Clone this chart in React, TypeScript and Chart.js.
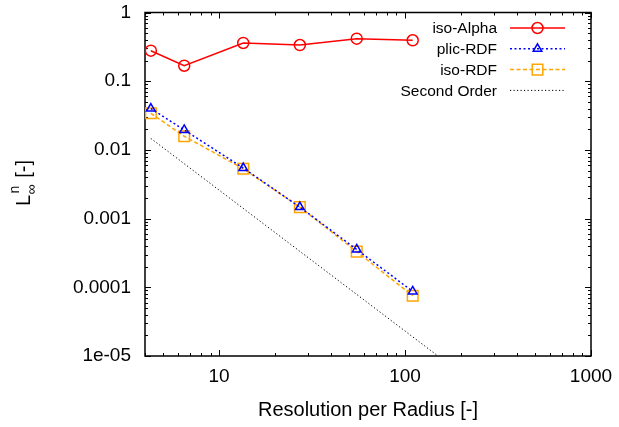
import React, { useEffect, useRef } from "react";
import { Chart, registerables } from "chart.js";

Chart.register(...registerables);

const FONT = "'Liberation Sans', Arial, Helvetica, sans-serif";

// ---- data ----
const resolution = [4.3, 6.5, 13.5, 27.2, 55, 110];
const isoAlpha = [0.278, 0.168, 0.36, 0.336, 0.416, 0.394];
const plicRDF = [0.04, 0.0195, 0.00545, 0.00147, 0.000355, 0.000087];
const isoRDF = [0.0341, 0.0158, 0.00531, 0.00147, 0.00033, 0.0000755];
const secondOrderX = [4.3, 150.4];
const secondOrderY = [0.0147, 0.00001];

const seriesLabels = ["iso-Alpha", "plic-RDF", "iso-RDF", "Second Order"];

const xTickValues = [10, 100, 1000];
const xTickLabels = ["10", "100", "1000"];
const yTickValues = [1e-5, 1e-4, 1e-3, 1e-2, 0.1, 1];
const yTickLabels = ["1e-05", "0.0001", "0.001", "0.01", "0.1", "1"];

const xTitle = "Resolution per Radius [-]";

function drawMarker(ctx: CanvasRenderingContext2D, style: string, x: number, y: number, r: number) {
  ctx.beginPath();
  if (style === "circle") {
    ctx.arc(x, y, r, 0, Math.PI * 2);
  } else if (style === "triangle") {
    let rad = 0;
    const t = (2 * Math.PI) / 3;
    ctx.moveTo(x + Math.sin(rad) * r, y - Math.cos(rad) * r);
    rad += t;
    ctx.lineTo(x + Math.sin(rad) * r, y - Math.cos(rad) * r);
    rad += t;
    ctx.lineTo(x + Math.sin(rad) * r, y - Math.cos(rad) * r);
    ctx.closePath();
  } else if (style === "rect") {
    const s = r * Math.SQRT1_2;
    ctx.rect(x - s, y - s, 2 * s, 2 * s);
  }
  ctx.stroke();
}

const frameTicksPlugin = {
  id: "frameTicks",
  beforeDatasetsDraw(chart: any) {
    const { ctx, chartArea } = chart;
    const { left, right, top, bottom } = chartArea;
    const xs = chart.scales.x;
    const ys = chart.scales.y;
    ctx.save();
    ctx.strokeStyle = "#000";
    ctx.lineWidth = 1;
    ctx.setLineDash([]);
    const e0x = Math.floor(Math.log10(xs.min));
    const e1x = Math.ceil(Math.log10(xs.max));
    for (let e = e0x; e <= e1x; e++) {
      for (let m = 1; m <= 9; m++) {
        const v = m * Math.pow(10, e);
        if (v < xs.min * 0.9999 || v > xs.max * 1.0001) continue;
        const px = Math.round(xs.getPixelForValue(v)) + 0.5;
        const len = m === 1 ? 6 : 3;
        ctx.beginPath();
        ctx.moveTo(px, bottom);
        ctx.lineTo(px, bottom - len);
        ctx.moveTo(px, top);
        ctx.lineTo(px, top + len);
        ctx.stroke();
      }
    }
    const e0y = Math.floor(Math.log10(ys.min) + 1e-9);
    const e1y = Math.ceil(Math.log10(ys.max) - 1e-9);
    for (let e = e0y; e <= e1y; e++) {
      for (let m = 1; m <= 9; m++) {
        const v = m * Math.pow(10, e);
        if (v < ys.min * 0.9999 || v > ys.max * 1.0001) continue;
        const py = Math.round(ys.getPixelForValue(v)) + 0.5;
        const len = m === 1 ? 6 : 3;
        ctx.beginPath();
        ctx.moveTo(left, py);
        ctx.lineTo(left + len, py);
        ctx.moveTo(right, py);
        ctx.lineTo(right - len, py);
        ctx.stroke();
      }
    }
    ctx.lineWidth = 1.5;
    ctx.strokeRect(left, top, right - left, bottom - top);
    ctx.restore();
  },
};

const keyPlugin = {
  id: "gnuKey",
  afterDatasetsDraw(chart: any) {
    const { ctx } = chart;
    ctx.save();
    const textRight = 497;
    const lineL = 510;
    const lineR = 565;
    chart.data.datasets.forEach((ds: any, i: number) => {
      const yy = 28 + i * 20.8;
      ctx.font = `15.5px ${FONT}`;
      ctx.fillStyle = "#000";
      ctx.textAlign = "right";
      ctx.textBaseline = "middle";
      ctx.setLineDash([]);
      ctx.fillText(ds.label, textRight, yy + 1);
      ctx.strokeStyle = ds.borderColor;
      ctx.lineWidth = ds.borderWidth;
      ctx.setLineDash(ds.borderDash || []);
      ctx.beginPath();
      ctx.moveTo(lineL, yy);
      ctx.lineTo(lineR, yy);
      ctx.stroke();
      ctx.setLineDash([]);
      if (ds.pointRadius > 0) {
        ctx.lineWidth = ds.pointBorderWidth;
        drawMarker(ctx, ds.pointStyle, (lineL + lineR) / 2, yy, ds.pointRadius);
      }
    });
    ctx.restore();
  },
};

const yTitlePlugin = {
  id: "yTitle",
  afterDraw(chart: any) {
    const { ctx } = chart;
    ctx.save();
    ctx.translate(29.5, 206);
    ctx.rotate(-Math.PI / 2);
    ctx.fillStyle = "#000";
    ctx.textAlign = "left";
    ctx.textBaseline = "alphabetic";
    ctx.font = `20px ${FONT}`;
    ctx.fillText("L", 0, 0);
    let w = ctx.measureText("L").width + 0.5;
    ctx.font = `14px ${FONT}`;
    ctx.fillText("n", w + 1, -11);
    const wn = ctx.measureText("n").width;
    ctx.fillText("\u221E", w, 6);
    const wi = ctx.measureText("\u221E").width;
    w += Math.max(wn, wi) + 1;
    ctx.font = `20px ${FONT}`;
    ctx.fillText(" [-]", w, 0);
    ctx.restore();
  },
};

export default function App() {
  const ref = useRef<HTMLCanvasElement | null>(null);

  useEffect(() => {
    if (!ref.current) return;
    const chart = new Chart(ref.current, {
      type: "line",
      data: {
        datasets: [
          {
            label: seriesLabels[0],
            data: resolution.map((x, i) => ({ x, y: isoAlpha[i] })),
            borderColor: "#ff0000",
            backgroundColor: "rgba(0,0,0,0)",
            borderWidth: 1.5,
            pointStyle: "circle",
            pointRadius: 5.5,
            pointBorderWidth: 1.5,
            pointBorderColor: "#ff0000",
            pointBackgroundColor: "rgba(0,0,0,0)",
            tension: 0,
          } as any,
          {
            label: seriesLabels[1],
            data: resolution.map((x, i) => ({ x, y: plicRDF[i] })),
            borderColor: "#0000ff",
            backgroundColor: "rgba(0,0,0,0)",
            borderWidth: 1.5,
            borderDash: [2, 2.5],
            pointStyle: "triangle",
            pointRadius: 5,
            pointBorderWidth: 1.5,
            pointBorderColor: "#0000ff",
            pointBackgroundColor: "rgba(0,0,0,0)",
            tension: 0,
          } as any,
          {
            label: seriesLabels[2],
            data: resolution.map((x, i) => ({ x, y: isoRDF[i] })),
            borderColor: "#ffa500",
            backgroundColor: "rgba(0,0,0,0)",
            borderWidth: 1.5,
            borderDash: [4, 2.5],
            pointStyle: "rect",
            pointRadius: 7.5,
            pointBorderWidth: 1.5,
            pointBorderColor: "#ffa500",
            pointBackgroundColor: "rgba(0,0,0,0)",
            tension: 0,
          } as any,
          {
            label: seriesLabels[3],
            data: secondOrderX.map((x, i) => ({ x, y: secondOrderY[i] })),
            borderColor: "#000000",
            backgroundColor: "rgba(0,0,0,0)",
            borderWidth: 1,
            borderDash: [1.2, 2.3],
            pointRadius: 0,
            pointBorderWidth: 0,
            tension: 0,
          } as any,
        ],
      },
      options: {
        animation: false,
        responsive: true,
        maintainAspectRatio: false,
        layout: { padding: { top: 12.5, right: 28, left: 0, bottom: 0 } },
        plugins: {
          legend: { display: false },
          tooltip: { enabled: false },
        },
        scales: {
          x: {
            type: "logarithmic",
            min: 4,
            max: 1000,
            afterFit: (s: any) => {
              s.height = 71;
              s.paddingLeft = 0;
              s.paddingRight = 0;
            },
            afterBuildTicks: (s: any) => {
              s.ticks = xTickValues.map((v) => ({ value: v }));
            },
            ticks: {
              callback: (_v: any, i: number) => xTickLabels[i],
              font: { family: FONT, size: 19 },
              color: "#000",
              padding: 9,
              maxRotation: 0,
              autoSkip: false,
            },
            grid: { display: false, drawTicks: false },
            border: { display: false },
            title: {
              display: true,
              text: xTitle,
              font: { family: FONT, size: 20 },
              color: "#000",
              padding: { top: 0, bottom: 5 },
            },
          },
          y: {
            type: "logarithmic",
            min: 1e-5,
            max: 1,
            afterFit: (s: any) => {
              s.width = 145;
              s.paddingTop = 0;
              s.paddingBottom = 0;
            },
            afterBuildTicks: (s: any) => {
              s.ticks = yTickValues.map((v) => ({ value: v }));
            },
            ticks: {
              callback: (_v: any, i: number) => yTickLabels[i],
              font: { family: FONT, size: 19 },
              color: "#000",
              padding: 14,
              autoSkip: false,
            },
            grid: { display: false, drawTicks: false },
            border: { display: false },
          },
        },
      } as any,
      plugins: [frameTicksPlugin, keyPlugin, yTitlePlugin],
    });
    return () => chart.destroy();
  }, []);

  return (
    <div style={{ position: "fixed", left: 0, top: 0, width: 619, height: 427, background: "#fff" }}>
      <canvas ref={ref} />
    </div>
  );
}
